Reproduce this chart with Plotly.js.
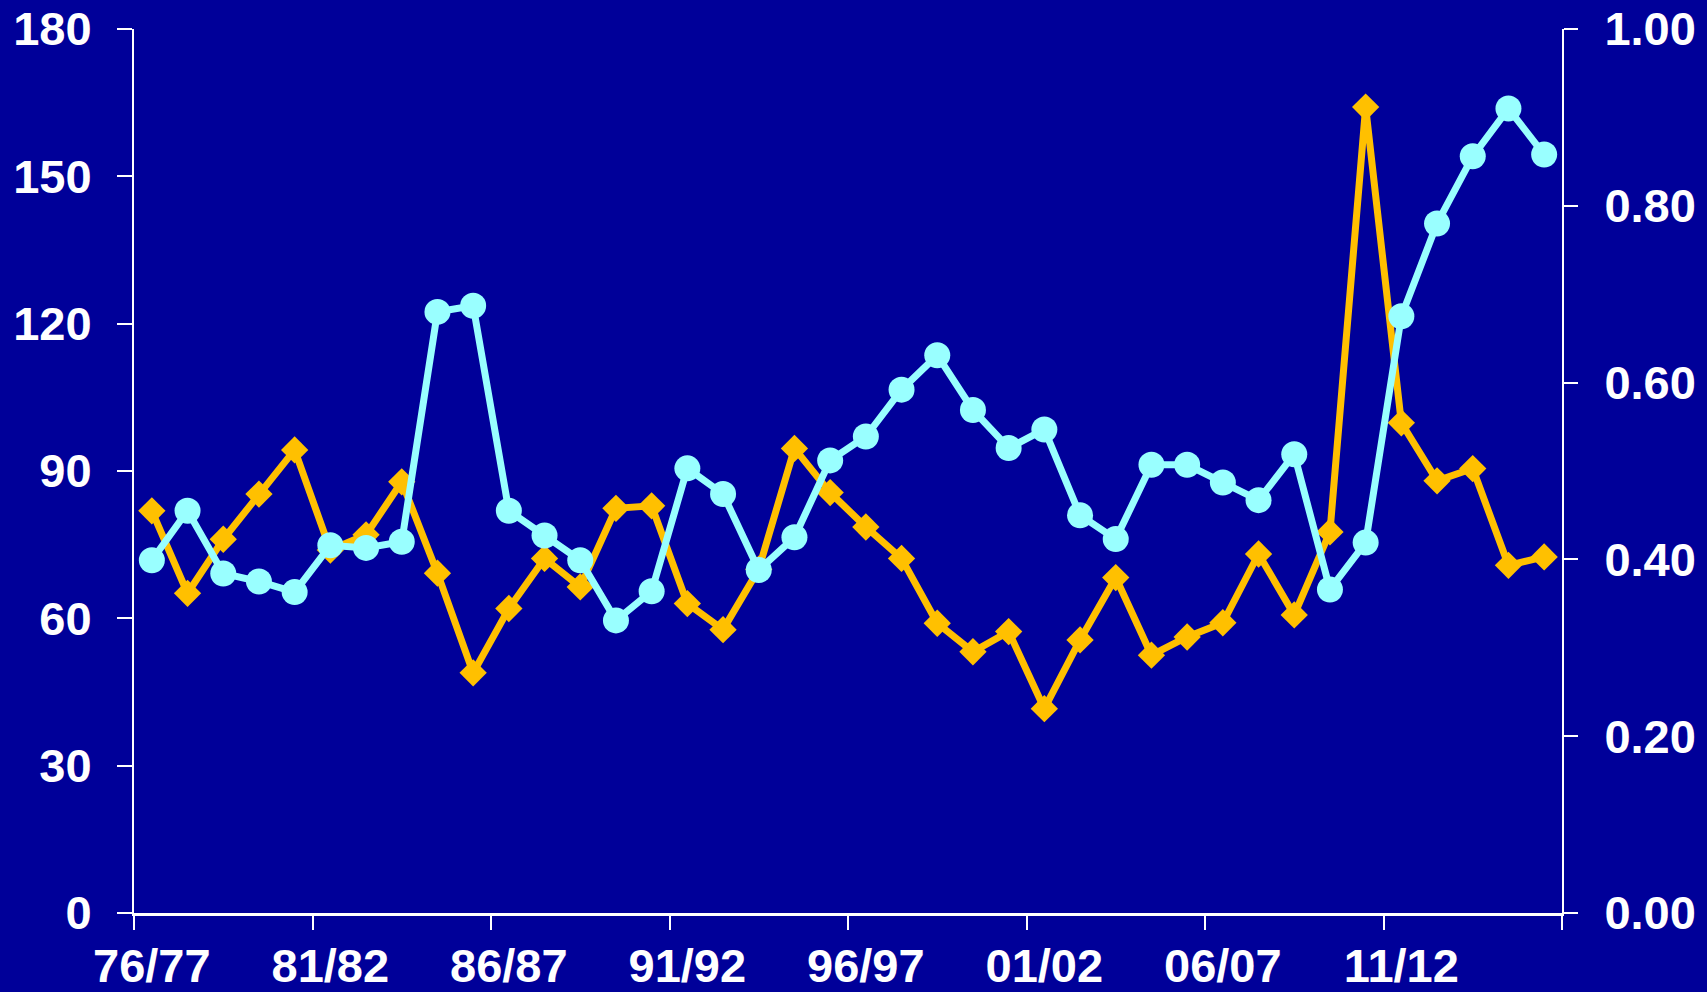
<!DOCTYPE html>
<html>
<head>
<meta charset="utf-8">
<script src="https://cdn.plot.ly/plotly-3.0.1.min.js"></script>
<style>
html,body{margin:0;padding:0;background:#000099;}
#chart{width:1707px;height:992px;}
</style>
</head>
<body>
<div id="chart"></div>
<script>
// Seasons (categories)
const seasons = [
  "76/77","77/78","78/79","79/80","80/81","81/82","82/83","83/84","84/85","85/86",
  "86/87","87/88","88/89","89/90","90/91","91/92","92/93","93/94","94/95","95/96",
  "96/97","97/98","98/99","99/00","00/01","01/02","02/03","03/04","04/05","05/06",
  "06/07","07/08","08/09","09/10","10/11","11/12","12/13","13/14","14/15","15/16"
];
// Labels shown on the category axis
const shownLabels = ["76/77","81/82","86/87","91/92","96/97","01/02","06/07","11/12"];

// Orange series (left axis, 0-180)
const orangeValues = [
  81.9, 65.1, 76.1, 85.3, 94.3, 73.9, 77.0, 87.8, 69.2, 48.9,
  62.0, 72.2, 66.4, 82.4, 82.9, 63.0, 57.7, 70.0, 94.6, 85.6,
  78.6, 72.2, 59.0, 53.2, 57.3, 41.6, 55.6, 68.3, 52.5, 56.2,
  59.1, 73.1, 60.7, 77.6, 164.1, 99.8, 88.0, 90.5, 70.8, 72.5
];
// Cyan series (right axis, 0-1)
const cyanValues = [
  0.399, 0.455, 0.384, 0.375, 0.363, 0.416, 0.413, 0.420, 0.680, 0.687,
  0.455, 0.427, 0.399, 0.331, 0.364, 0.503, 0.474, 0.388, 0.425, 0.512,
  0.539, 0.592, 0.631, 0.569, 0.526, 0.547, 0.450, 0.423, 0.507, 0.507,
  0.487, 0.467, 0.519, 0.366, 0.419, 0.675, 0.780, 0.856, 0.910, 0.858
];

const xIdx = seasons.map((s, i) => i);
const labelIdx = shownLabels.map(l => seasons.indexOf(l));

const tickFont = {family: "Liberation Sans, Arial, sans-serif", size: 47, color: "#FFFFFF", weight: "bold"};

const traces = [
  {
    x: xIdx, y: orangeValues, text: seasons, type: "scatter", mode: "lines+markers",
    line: {color: "#FFC000", width: 7},
    marker: {symbol: "diamond", size: 21, color: "#FFC000"},
    yaxis: "y", hoverinfo: "text+y"
  },
  {
    x: xIdx, y: cyanValues, text: seasons, type: "scatter", mode: "lines+markers",
    line: {color: "#99FFFF", width: 7},
    marker: {symbol: "circle", size: 26, color: "#99FFFF"},
    yaxis: "y2", hoverinfo: "text+y"
  }
];

const layout = {
  width: 1707, height: 992,
  paper_bgcolor: "#000099", plot_bgcolor: "#000099",
  margin: {l: 134, r: 145, t: 29, b: 79, pad: 0},
  showlegend: false,
  font: tickFont,
  xaxis: {
    type: "linear",
    range: [-0.5, seasons.length - 0.5],
    tickmode: "array", tickvals: labelIdx, ticktext: shownLabels,
    ticks: "", showgrid: false, zeroline: false,
    showline: true, linecolor: "#FFFFFF", linewidth: 2.5,
    tickfont: tickFont,
    minor: {tickmode: "linear", tick0: -0.5, dtick: 5, ticks: "outside", ticklen: 14, tickwidth: 2, tickcolor: "#FFFFFF", showgrid: false},
    ticklabelstandoff: 10
  },
  yaxis: {
    range: [0, 180], tickmode: "linear", tick0: 0, dtick: 30,
    ticks: "outside", ticklen: 15, tickwidth: 2, tickcolor: "#FFFFFF",
    showline: true, linecolor: "#FFFFFF", linewidth: 2,
    showgrid: false, zeroline: false,
    tickfont: tickFont,
    ticklabelstandoff: 16
  },
  yaxis2: {
    range: [0, 1], overlaying: "y", side: "right", tickmode: "linear", tick0: 0, dtick: 0.2,
    tickformat: ".2f",
    ticks: "outside", ticklen: 14, tickwidth: 2, tickcolor: "#FFFFFF",
    showline: true, linecolor: "#FFFFFF", linewidth: 2,
    showgrid: false, zeroline: false,
    tickfont: tickFont,
    ticklabelstandoff: 17
  }
};

Plotly.newPlot("chart", traces, layout, {staticPlot: true, displayModeBar: false});
</script>
</body>
</html>
